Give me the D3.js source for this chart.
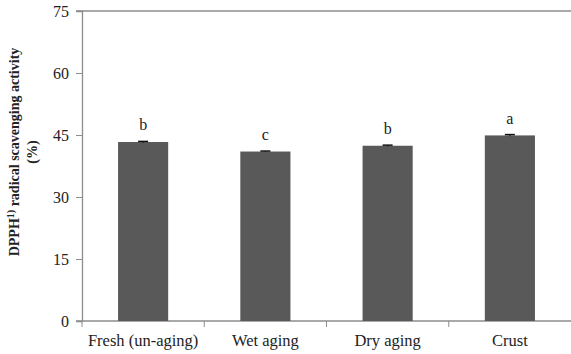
<!DOCTYPE html>
<html>
<head>
<meta charset="utf-8">
<script src="https://cdn.jsdelivr.net/npm/d3@7"></script>
<style>
  html, body { margin: 0; padding: 0; background: #fff; }
  svg { display: block; }
  text { font-family: "Liberation Serif", "Times New Roman", serif; fill: #222; }
</style>
</head>
<body>
<svg id="chart" width="571" height="354"></svg>
<script>
// DPPH radical scavenging activity by treatment
const categories = ["Fresh (un-aging)", "Wet aging", "Dry aging", "Crust"];
const values = [43.3, 41.0, 42.4, 44.9];
const errors = [0.15, 0.12, 0.15, 0.2];
const letters = ["b", "c", "b", "a"];
const yTicks = [0, 15, 30, 45, 60, 75];

const svg = d3.select("#chart");
const margin = { left: 82, right: 0, top: 11, bottom: 33 };
const W = 571, H = 354;

const x = d3.scaleBand()
  .domain(categories)
  .range([margin.left, W - margin.right])
  .paddingInner(0.59)
  .paddingOuter(0.295);

const xOuter = d3.scaleBand().domain(categories).range([margin.left, W - margin.right]);

const y = d3.scaleLinear().domain([0, 75]).range([H - margin.bottom, margin.top]);

const axisColor = "#8c8c8c";

// top frame line
svg.append("line")
  .attr("x1", margin.left - 6).attr("x2", W)
  .attr("y1", y(75)).attr("y2", y(75))
  .attr("stroke", axisColor).attr("stroke-width", 1.3);

// y axis
const yAxis = svg.append("g")
  .attr("transform", `translate(${margin.left},0)`)
  .attr("font-family", "'Liberation Serif', serif")
  .call(d3.axisLeft(y).tickValues(yTicks).tickSize(6).tickPadding(7));
yAxis.attr("font-family", "'Liberation Serif', serif");
yAxis.select(".domain").attr("stroke", axisColor).attr("stroke-width", 1.3);
yAxis.selectAll(".tick line").attr("stroke", axisColor);
yAxis.selectAll(".tick text")
  .style("font-size", "16px")
  .style("font-family", "'Liberation Serif', serif")
  .attr("fill", "#222");

// x axis with ticks between categories
const xAxisG = svg.append("g").attr("transform", `translate(0,${y(0)})`);
xAxisG.append("line")
  .attr("x1", margin.left - 6).attr("x2", W)
  .attr("stroke", axisColor).attr("stroke-width", 1.3);
const boundaries = categories.map(c => xOuter(c)).concat([W - margin.right]);
xAxisG.selectAll("line.tk").data(boundaries.slice(0, 4)).join("line")
  .attr("class", "tk")
  .attr("x1", d => d).attr("x2", d => d)
  .attr("y1", 0).attr("y2", 6)
  .attr("stroke", axisColor);
xAxisG.selectAll("text").data(categories).join("text")
  .attr("x", d => xOuter(d) + xOuter.bandwidth() / 2)
  .attr("y", 25)
  .attr("text-anchor", "middle")
  .style("font-size", "16.5px")
  .text(d => d);

// bars
const data = categories.map((c, i) => ({ c, v: values[i], e: errors[i], l: letters[i] }));
svg.selectAll("rect.bar").data(data).join("rect")
  .attr("class", "bar")
  .attr("x", d => x(d.c))
  .attr("width", x.bandwidth())
  .attr("y", d => y(d.v))
  .attr("height", d => y(0) - y(d.v))
  .attr("fill", "#595959");

// error bars
const eb = svg.selectAll("g.err").data(data).join("g").attr("class", "err");
eb.append("line")
  .attr("x1", d => x(d.c) + x.bandwidth() / 2).attr("x2", d => x(d.c) + x.bandwidth() / 2)
  .attr("y1", d => y(d.v + d.e)).attr("y2", d => y(d.v - d.e))
  .attr("stroke", "#111").attr("stroke-width", 1);
eb.append("line")
  .attr("x1", d => x(d.c) + x.bandwidth() / 2 - 5).attr("x2", d => x(d.c) + x.bandwidth() / 2 + 5)
  .attr("y1", d => y(d.v + d.e)).attr("y2", d => y(d.v + d.e))
  .attr("stroke", "#111").attr("stroke-width", 1.5);

// significance letters
svg.selectAll("text.sig").data(data).join("text")
  .attr("class", "sig")
  .attr("x", d => x(d.c) + x.bandwidth() / 2)
  .attr("y", d => y(d.v + d.e) - 11)
  .attr("text-anchor", "middle")
  .style("font-size", "16px")
  .text(d => d.l);

// y axis title
const title = svg.append("text")
  .attr("transform", `translate(19,152) rotate(-90)`)
  .attr("text-anchor", "middle")
  .style("font-size", "14px")
  .style("font-weight", "bold");
title.append("tspan").attr("x", 0).attr("dy", 0).text("DPPH");
title.append("tspan").attr("dy", -5).style("font-size", "10px").text("1)");
title.append("tspan").attr("dy", 5).text(" radical scavenging activity");
svg.append("text")
  .attr("transform", `translate(37,152) rotate(-90)`)
  .attr("text-anchor", "middle")
  .style("font-size", "14px")
  .style("font-weight", "bold")
  .text("(%)");
</script>
</body>
</html>
